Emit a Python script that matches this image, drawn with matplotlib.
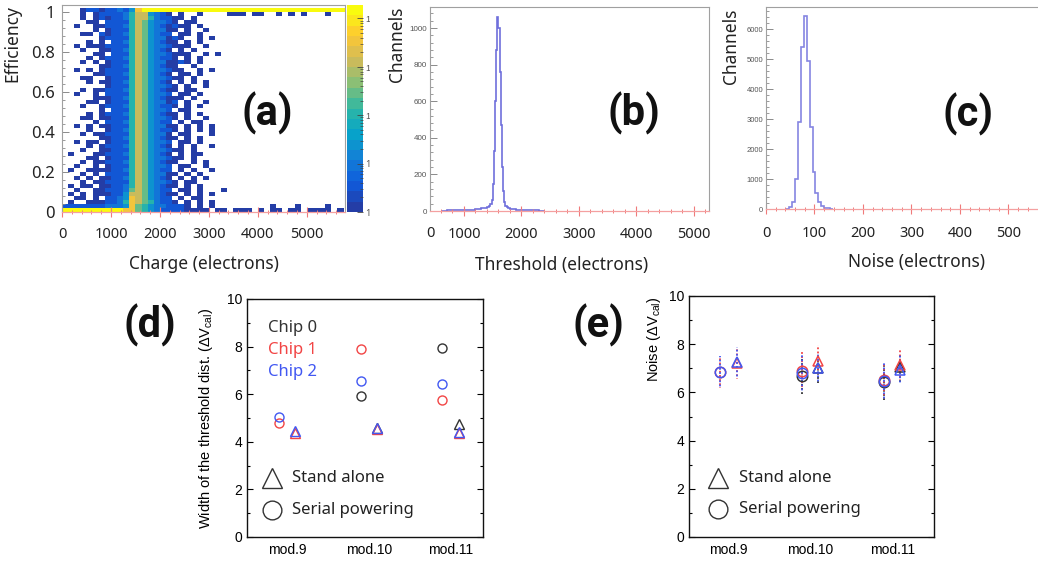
import matplotlib
matplotlib.use("Agg")
import matplotlib.pyplot as plt
import numpy as np
from matplotlib.colors import LinearSegmentedColormap, LogNorm
from matplotlib.ticker import MultipleLocator, AutoMinorLocator
from matplotlib.transforms import Bbox, TransformedBbox

plt.rcParams['font.family'] = ['Noto Sans', 'DejaVu Sans']
plt.rcParams['mathtext.fontset'] = 'custom'
plt.rcParams['mathtext.rm'] = 'Liberation Sans'

W, H = 1038, 565

# ---------------- (a) efficiency vs injected charge ----------------
CHARGE_BIN = 125      # electrons per column
EFF_BIN = 0.02        # efficiency per row
N_CHARGE = 48
# '.' = empty cell, digits = count level (see COUNT_LEVELS)
COUNT_LEVELS = {'1': 1, '2': 3, '3': 10, '4': 30, '5': 100, '6': 300,
                '7': 1000, '8': 4000, '9': 15000}

EFF_TOP = [  # efficiency 1.00 and 0.98
    "..." + "12212232" + "48" + "9" * 35,
    "...1.1222" + "23577432" + "1.1..1...." + "111.11..1.1.1...1....",
]
# rows for efficiency 0.96 down to 0.04: charge cols 0-8 | 9-16 | 17-27
LEFT_TAIL = [
    "...1.1212", "....11.22", "..1..1122", ".....1.12", "...11.212", "......122",
    "....1.1.2", "..1.11122", "...1..112", ".....11.2", "....1.122", "...1.1.12",
    "......112", "..1.1.122", ".....1122", "...11..12", "....1.112", ".......12",
    "...1.1122", "..1..1.22", ".....1112", "....11.12", "...1..122", "......1.2",
    "....1.122", "...11.112", ".....1.22", "..1.1.112", "....1..12", "...1.1122",
    "......112", "..1.11.12", "....1.122", "...1..112", ".1...1122", "....11.12",
    "...1.1122", "..1..1.12", ".1..11112", "...1.1.22", "..1.1.112", "...1.1122",
    ".1.11.112", "..1..1122", ".1.1.1112", "..11.1.22", ".1..11122",
]
BAND = [
    "23577532", "22576433", "23576432", "22576433", "23576432", "22576433",
    "23576432", "22576433", "23576432", "22576433", "23576432", "22576433",
    "23576432", "22576433", "23576432", "22576433", "23576432", "22576433",
    "23576432", "22576433", "23576432", "22576433", "23576432", "22576433",
    "23576432", "22576433", "23576432", "22576433", "23576432", "22576433",
    "23576432", "22576433", "23576432", "22576433", "23576432", "22576433",
    "23576432", "22576433", "23576432", "22576433", "23576432", "22576433",
    "23576432", "23676432", "24776432", "34876432", "35876532",
]
RIGHT_TAIL = [
    "211.1......", "21.11......", "1211.1.....", "11.1..1....", "2.11.1.....",
    "121..1.1...", "11.1.1.....", "2111..1....", "1.1.1......", "2111..1.1..",
    "21.1.1.....", "1121.1.....", "11..1......", "211..1.1...", "1.11.1.....",
    "211.1......", "1.1.1.1....", "21.1..1....", "11.11......", "2.11.1.....",
    "111.1......", "12.1..1....", "21.1.1.....", "2.11.......", "11.1.1.....",
    "21.1..1....", "2.1.11.....", "11.1.1.1...", "21.1.1.1...", "1.11...1...",
    "11.1.1.....", "2.11.1.....", "1.1.1..1...", "211.1......", "1.1.11.....",
    "211.1......", "11..1.1....", "2.11..1....", "2.1.1..1...", "11.1.1.....",
    "1.1.1.1....", "21.11......", "11.1.1.....", "2.11.1...1.", "11.1.1.1...",
    "2.1.11.....", "21.1.1.1...",
]
EFF_BOTTOM = [  # efficiency 0.02 and 0.00
    "222222233" + "34865433" + "2221.1.1" + ".........1...1....1...1",
    "9999999999" + "88" + "6543" + "2222111" + "1.11.111.1.11.11.1111.1.1",
]

# ---------------- (b) threshold distribution ----------------
THR_EDGES = [600, 700, 800, 900, 1000, 1100, 1200, 1300, 1400, 1440, 1460, 1480,
             1500, 1520, 1540, 1560, 1580, 1600, 1620, 1640, 1660, 1680, 1700,
             1720, 1740, 1760, 1800, 1900, 2000, 2100, 2200, 2300, 2400]
THR_COUNTS = [2, 3, 4, 5, 6, 8, 10, 14, 20, 28, 40, 60, 150, 330, 600, 880,
              1060, 1000, 760, 470, 240, 110, 50, 30, 22, 16, 11, 8, 6, 4, 3, 2]

# ---------------- (c) noise distribution ----------------
NOISE_EDGES = [42, 48, 54, 60, 66, 72, 78, 84, 90, 96, 102, 108, 114, 120, 126, 132, 138]
NOISE_COUNTS = [15, 60, 250, 1000, 2900, 5400, 6450, 4950, 2750, 1250, 530, 250,
                110, 50, 20, 8]

# ---------------- (d), (e) per module / chip ----------------
MODULES = ["mod.9", "mod.10", "mod.11"]
CHIPS = ["Chip 0", "Chip 1", "Chip 2"]
CHIP_COLORS = ["#333333", "#f24545", "#4258f2"]

# width of the threshold distribution (dVcal)
WIDTH_SERIAL = [[np.nan, 5.94, 7.93], [4.78, 7.90, 5.75], [5.06, 6.55, 6.43]]
WIDTH_ALONE = [[np.nan, 4.58, 4.74], [4.38, 4.55, 4.37], [4.45, 4.60, 4.40]]

# noise mean and spread (dVcal)
NOISE_SERIAL = [[np.nan, 6.70, 6.45], [6.85, 6.90, 6.52], [6.85, 6.82, 6.48]]
NOISE_SERIAL_ERR = [[np.nan, 0.75, 0.78], [0.65, 0.78, 0.75], [0.65, 0.80, 0.78]]
NOISE_ALONE = [[np.nan, 7.00, 7.05], [7.20, 7.30, 7.15], [7.25, 7.00, 6.95]]
NOISE_ALONE_ERR = [[np.nan, 0.60, 0.60], [0.65, 0.65, 0.65], [0.65, 0.62, 0.60]]

LETTER_FONT = dict(fontsize=30, fontweight='bold', color='#111111',
                   family=['Roboto', 'DejaVu Sans'])

fig = plt.figure(figsize=(W / 100, H / 100), dpi=100)


def px_axes(left, top, right, bottom):
    return fig.add_axes([left / W, 1 - bottom / H, (right - left) / W, (bottom - top) / H])


def root_frame(ax, xmajor, ymajor, ylabsize, ylabcolor, ylabfont, xpad):
    for s in ('top', 'left', 'right'):
        ax.spines[s].set_color('#a0a0a0')
        ax.spines[s].set_linewidth(0.8)
    ax.spines['bottom'].set_color('#f4a0a0')
    ax.spines['bottom'].set_linewidth(0.9)
    ax.xaxis.set_major_locator(MultipleLocator(xmajor))
    ax.xaxis.set_minor_locator(AutoMinorLocator(5))
    ax.yaxis.set_major_locator(MultipleLocator(ymajor))
    ax.yaxis.set_minor_locator(AutoMinorLocator(5))
    ax.tick_params(axis='x', which='both', direction='inout', color='#f07a7a',
                   labelcolor='#222222', labelsize=10.5, pad=xpad)
    ax.tick_params(axis='x', which='major', length=7, width=0.8)
    ax.tick_params(axis='x', which='minor', length=3.5, width=0.7)
    ax.tick_params(axis='y', which='both', direction='in', color='#8a8a8a',
                   labelcolor=ylabcolor, labelsize=ylabsize, pad=2)
    ax.tick_params(axis='y', which='major', length=5, width=0.7)
    ax.tick_params(axis='y', which='minor', length=2.5, width=0.6)
    for lab in ax.get_yticklabels():
        lab.set_fontfamily(ylabfont)


# ---------- (a) ----------
stops = [0.0, 0.125, 0.25, 0.375, 0.5, 0.625, 0.75, 0.875, 1.0]
bird_r = [0.1400, 0.0592, 0.0780, 0.0232, 0.1802, 0.5301, 0.8186, 0.9956, 0.9764]
bird_g = [0.2400, 0.3599, 0.5041, 0.6419, 0.7178, 0.7492, 0.7328, 0.7862, 0.9832]
bird_b = [0.6500, 0.8684, 0.8385, 0.7914, 0.6425, 0.4662, 0.3499, 0.1968, 0.0539]
bird = LinearSegmentedColormap.from_list(
    'bird', list(zip(stops, zip(bird_r, bird_g, bird_b))), N=20)

rows = EFF_TOP + [l + b + r for l, b, r in zip(LEFT_TAIL, BAND, RIGHT_TAIL)] + EFF_BOTTOM
counts = np.full((len(rows), N_CHARGE), np.nan)
for i, row in enumerate(reversed(rows)):
    for j, ch in enumerate(row.ljust(N_CHARGE, '.')[:N_CHARGE]):
        if ch != '.':
            counts[i, j] = COUNT_LEVELS[ch]

ax_a = px_axes(62, 5, 345, 212)
xe = np.arange(N_CHARGE + 1) * CHARGE_BIN
ye = np.arange(len(rows) + 1) * EFF_BIN
mesh = ax_a.pcolormesh(xe, ye, np.ma.masked_invalid(counts), cmap=bird,
                       norm=LogNorm(vmin=1, vmax=19000))
ax_a.set_xlim(0, 5780)
ax_a.set_ylim(0, 1.035)
root_frame(ax_a, 1000, 0.2, 12, '#222222', 'Noto Sans', 7)
ax_a.yaxis.set_major_formatter(plt.FuncFormatter(lambda v, p: f"{v:g}"))
ax_a.tick_params(axis='y', pad=5)
ax_a.set_ylabel("Efficiency", loc='top', fontsize=12.5, color='#222222')
ax_a.yaxis.set_label_coords(-0.142, 1.0)
ax_a.set_xlabel("Charge (electrons)", fontsize=12.5, color='#222222')
ax_a.xaxis.set_label_coords(0.5, -0.21)
ax_a.text(0.724, 0.478, "(a)", transform=ax_a.transAxes, ha='center', va='center',
          **LETTER_FONT)

cax = px_axes(347, 5, 363, 212)
cbar = fig.colorbar(mesh, cax=cax)
cbar.outline.set_visible(False)
cbar.set_ticks([1, 10, 100, 1000, 10000])
cbar.set_ticklabels(["1", "10", r"$10^{2}$", r"$10^{3}$", r"$10^{4}$"])
cax.tick_params(which='both', direction='in', color='#444444', labelsize=6.5, pad=1.5)
cax.tick_params(which='major', length=4, width=0.6)
cax.tick_params(which='minor', length=2, width=0.5)
clip = TransformedBbox(Bbox.from_extents(0, 0, 370 / W, 1), fig.transFigure)
for lab in cax.get_yticklabels():
    lab.set_color('#555555')
    lab.set_clip_box(clip)
    lab.set_clip_on(True)

# ---------- (b) ----------
ax_b = px_axes(430, 7, 709, 211)
ax_b.stairs(THR_COUNTS, THR_EDGES, color='#6f6fdc', linewidth=1.2)
ax_b.set_xlim(409, 5261)
ax_b.set_ylim(0, 1115)
root_frame(ax_b, 1000, 200, 5.8, '#555555', 'Liberation Sans', 8)
ax_b.text(0.0, -0.072, "0", transform=ax_b.transAxes, ha='center', va='top',
          fontsize=10.5, color='#222222')
ax_b.set_ylabel("Channels", loc='top', fontsize=12.5, color='#222222')
ax_b.yaxis.set_label_coords(-0.085, 1.0)
ax_b.set_xlabel("Threshold (electrons)", fontsize=12.5, color='#222222')
ax_b.xaxis.set_label_coords(0.47, -0.22)
ax_b.text(0.73, 0.48, "(b)", transform=ax_b.transAxes, ha='center', va='center',
          **LETTER_FONT)

# ---------- (c) ----------
ax_c = px_axes(766, 7, 1040, 209)
ax_c.stairs(NOISE_COUNTS, NOISE_EDGES, color='#8585e2', linewidth=1.2)
ax_c.set_xlim(0, 565)
ax_c.set_ylim(0, 6750)
root_frame(ax_c, 100, 1000, 5.5, '#555555', 'Liberation Sans', 9)
ax_c.set_ylabel("Channels", loc='top', fontsize=12.5, color='#222222')
ax_c.yaxis.set_label_coords(-0.095, 0.99)
ax_c.set_xlabel("Noise (electrons)", fontsize=12.5, color='#222222')
ax_c.xaxis.set_label_coords(0.55, -0.22)
ax_c.text(0.737, 0.47, "(c)", transform=ax_c.transAxes, ha='center', va='center',
          **LETTER_FONT)


# ---------- (d) and (e) ----------
def module_frame(ax, xlim):
    ax.set_xlim(*xlim)
    ax.set_ylim(0, 10)
    ax.set_xticks(range(1, len(MODULES) + 1))
    ax.set_xticklabels(MODULES)
    ax.yaxis.set_major_locator(MultipleLocator(2))
    ax.yaxis.set_minor_locator(MultipleLocator(1))
    ax.tick_params(axis='x', length=0, labelsize=10, pad=4)
    ax.tick_params(axis='y', which='both', direction='in', right=True, labelsize=10,
                   width=0.8)
    ax.tick_params(axis='y', which='major', length=4.5)
    ax.tick_params(axis='y', which='minor', length=2.5)
    for lab in ax.get_xticklabels() + ax.get_yticklabels():
        lab.set_fontfamily('Liberation Sans')
    for s in ax.spines.values():
        s.set_linewidth(1.0)
        s.set_color('#111111')


def marker_legend(ax, x, y_tri, y_circ):
    ax.plot([x], [y_tri], marker='^', ms=15, mfc='none', mec='#333333', mew=1.0,
            transform=ax.transAxes, clip_on=False)
    ax.plot([x], [y_circ], marker='o', ms=13.5, mfc='none', mec='#333333', mew=1.0,
            transform=ax.transAxes, clip_on=False)
    ax.text(x + 0.085, y_tri, "Stand alone", transform=ax.transAxes, va='center',
            fontsize=12, color='#222222')
    ax.text(x + 0.085, y_circ, "Serial powering", transform=ax.transAxes, va='center',
            fontsize=12, color='#222222')


xpos = np.arange(1, len(MODULES) + 1)
OFF = 0.1

ax_d = px_axes(247, 299, 483, 537)
for k in range(len(CHIPS)):
    ax_d.plot(xpos - OFF, WIDTH_SERIAL[k], 'o', ms=6.5, mfc='none', mec=CHIP_COLORS[k], mew=1.0)
for k in range(len(CHIPS)):
    ax_d.plot(xpos + OFF, WIDTH_ALONE[k], '^', ms=6.5, mfc='none', mec=CHIP_COLORS[k], mew=1.0)
module_frame(ax_d, (0.51, 3.40))
ax_d.set_ylabel(r"Width of the threshold dist. ($\Delta$V$_{\mathrm{cal}}$)",
                fontsize=10.5, fontfamily='Liberation Sans')
ax_d.yaxis.set_label_coords(-0.135, 0.5)
for k, name in enumerate(CHIPS):
    ax_d.text(0.09, 0.878 - 0.093 * k, name, transform=ax_d.transAxes, va='center',
              fontsize=12, color=CHIP_COLORS[k])
marker_legend(ax_d, 0.106, 0.248, 0.113)
fig.text(150 / W, 1 - 325 / H, "(d)", ha='center', va='center', **LETTER_FONT)

ax_e = px_axes(689, 296, 934, 537)
for k in range(len(CHIPS)):
    for vals, errs, sgn in ((NOISE_SERIAL, NOISE_SERIAL_ERR, -1),
                            (NOISE_ALONE, NOISE_ALONE_ERR, 1)):
        eb = ax_e.errorbar(xpos + sgn * OFF, vals[k], yerr=errs[k], fmt='none',
                           ecolor=CHIP_COLORS[k], elinewidth=1.3, capsize=0)
        eb[2][0].set_linestyle((k * 0.7, (1.0, 1.3)))
for k in range(len(CHIPS)):
    ax_e.plot(xpos - OFF, NOISE_SERIAL[k], 'o', ms=7.5, mfc='none', mec=CHIP_COLORS[k], mew=1.1)
    ax_e.plot(xpos + OFF, NOISE_ALONE[k], '^', ms=7.5, mfc='none', mec=CHIP_COLORS[k], mew=1.1)
module_frame(ax_e, (0.52, 3.51))
ax_e.set_ylabel(r"Noise ($\Delta$V$_{\mathrm{cal}}$)", loc='top', fontsize=10.5,
                fontfamily='Liberation Sans')
ax_e.yaxis.set_label_coords(-0.105, 1.0)
marker_legend(ax_e, 0.118, 0.245, 0.116)
fig.text(598 / W, 1 - 325 / H, "(e)", ha='center', va='center', **LETTER_FONT)

fig.savefig("out.png", dpi=100)
